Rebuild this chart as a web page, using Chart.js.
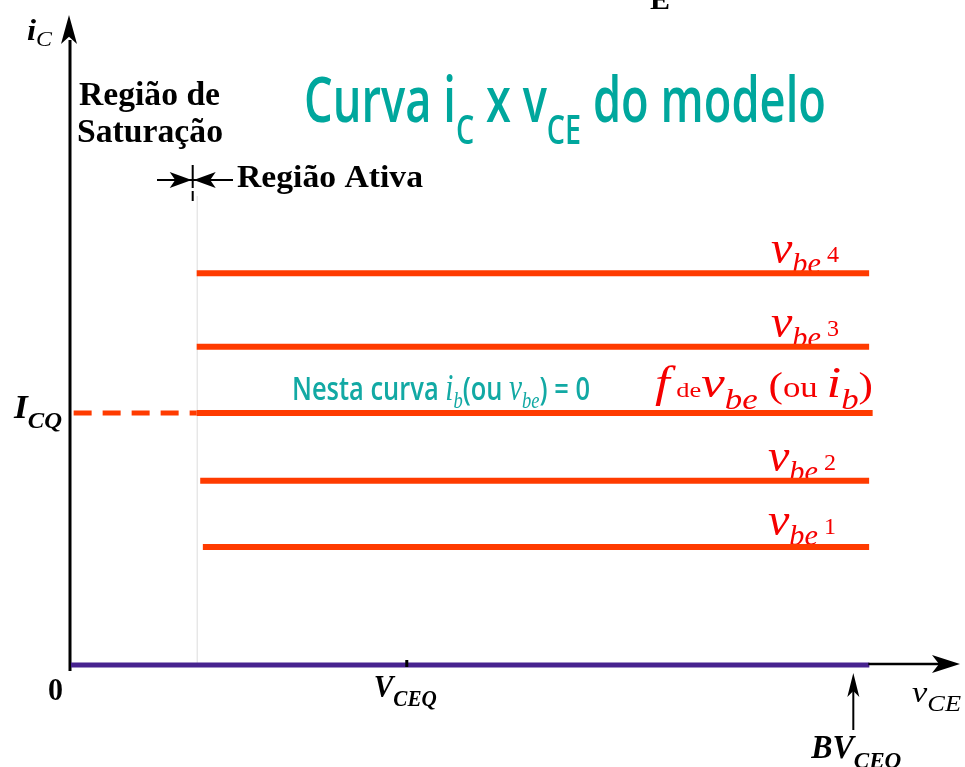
<!DOCTYPE html>
<html>
<head>
<meta charset="utf-8">
<script src="https://cdn.jsdelivr.net/npm/chart.js@4.4.1/dist/chart.umd.min.js"></script>
<style>
  html, body { margin: 0; padding: 0; background: #ffffff; }
  #wrap { width: 965px; height: 767px; }
</style>
</head>
<body>
<div id="wrap"><canvas id="icChart" width="965" height="767"></canvas></div>
<script>
// i_C x v_CE curves of the model (arbitrary units, 0..100 on both axes)
const curveNames = ['vbe4', 'vbe3', 'ICQ', 'vbe2', 'vbe1'];
const curveCurrents = [61.7, 50.1, 39.7, 29.0, 18.6];
const curveStarts = [14.3, 14.3, 14.3, 14.7, 15.0];
const curveEnds = [90.8, 90.8, 91.2, 90.8, 90.8];
const curveSuffix = [' 4', ' 3', '', ' 2', ' 1'];
const vceqValue = 38.2;
const bvceoValue = 89.0;
const icqValue = curveCurrents[2];
const vceMax = 100;
const icMax = 100;

const SERIF = "'Liberation Serif', 'Times New Roman', serif";
const SANS = "'Open Sans', 'Noto Sans', sans-serif";
const RED_LINE = '#ff3b00';
const RED_TEXT = '#f50000';
const TEAL = '#00a79d';

// draws a run of text pieces [text, font, dy], optionally squeezed to a width
function drawRich(ctx, x, y, parts, width, color) {
    ctx.save();
    ctx.fillStyle = color || '#000';
    ctx.textBaseline = 'alphabetic';
    ctx.textAlign = 'left';
    let total = 0;
    parts.forEach(p => { ctx.font = p[1]; total += ctx.measureText(p[0]).width; });
    const sx = width ? width / total : 1;
    ctx.translate(x, y);
    ctx.scale(sx, 1);
    let cx = 0;
    parts.forEach(p => {
        ctx.font = p[1];
        ctx.fillText(p[0], cx, p[2] || 0);
        cx += ctx.measureText(p[0]).width;
    });
    ctx.restore();
}

function arrowHead(ctx, tipX, tipY, dirX, dirY, len, half) {
    const bx = tipX - dirX * len, by = tipY - dirY * len;
    const nx = -dirY, ny = dirX;
    ctx.beginPath();
    ctx.moveTo(tipX, tipY);
    ctx.lineTo(bx + nx * half, by + ny * half);
    ctx.lineTo(tipX - dirX * len * 0.75, tipY - dirY * len * 0.75);
    ctx.lineTo(bx - nx * half, by - ny * half);
    ctx.closePath();
    ctx.fill();
}

const datasets = curveCurrents.map((ic, i) => ({
    label: curveNames[i],
    data: [{ x: curveStarts[i], y: ic }, { x: curveEnds[i], y: ic }],
    borderColor: RED_LINE,
    borderWidth: 6,
    borderCapStyle: 'butt',
    pointRadius: 0,
    tension: 0,
    fill: false,
    clip: false
}));

// dashed projection of I_CQ back to the vertical axis
datasets.push({
    label: 'ICQ dashed',
    data: [{ x: 0.3, y: icqValue }, { x: curveStarts[2], y: icqValue }],
    borderColor: RED_LINE,
    borderWidth: 5,
    borderDash: [18, 11],
    borderCapStyle: 'butt',
    pointRadius: 0,
    fill: false,
    clip: false
});

const underPlugin = {
    id: 'underLayer',
    beforeDatasetsDraw(chart) {
        const ctx = chart.ctx;
        const xs = chart.scales.x, ys = chart.scales.y;
        const x0 = xs.getPixelForValue(curveStarts[0]);

        // boundary between saturation and active regions
        ctx.save();
        ctx.strokeStyle = '#dcdcdc';
        ctx.lineWidth = 1;
        ctx.beginPath();
        ctx.moveTo(x0 + 0.5, 196);
        ctx.lineTo(x0 + 0.5, ys.getPixelForValue(0));
        ctx.stroke();
        ctx.restore();

        // curve labels
        curveCurrents.forEach((ic, i) => {
            const py = ys.getPixelForValue(ic);
            if (i === 2) {
                drawRich(ctx, 655, py - 16, [
                    ['f', 'italic 44px ' + SERIF],
                    [' de', '22px ' + SERIF],
                    ['v', 'italic 44px ' + SERIF],
                    ['be', 'italic 29px ' + SERIF, 12],
                    [' (', '36px ' + SERIF],
                    ['ou ', '29px ' + SERIF],
                    ['i', 'italic 44px ' + SERIF],
                    ['b', 'italic 29px ' + SERIF, 12],
                    [')', '36px ' + SERIF]
                ], 218, RED_TEXT);
            } else {
                const lx = i < 2 ? 771 : 768;
                drawRich(ctx, lx, py - 10 - (i === 4 ? 2 : 0), [
                    ['v', 'italic 46px ' + SERIF],
                    ['be', 'italic 29px ' + SERIF, 10],
                    [curveSuffix[i], '23px ' + SERIF, -1]
                ], 68, RED_TEXT);
            }
        });
    }
};

const overPlugin = {
    id: 'overLayer',
    afterDatasetsDraw(chart) {
        const ctx = chart.ctx;
        const xs = chart.scales.x, ys = chart.scales.y;
        const ox = xs.getPixelForValue(0);
        const oy = ys.getPixelForValue(0);
        const top = ys.getPixelForValue(icMax);
        const right = xs.getPixelForValue(vceMax);
        const bvx = xs.getPixelForValue(bvceoValue);

        ctx.save();
        ctx.fillStyle = '#000';
        ctx.strokeStyle = '#000';

        // vertical axis i_C
        ctx.lineWidth = 3;
        ctx.beginPath();
        ctx.moveTo(ox - 1, oy + 6);
        ctx.lineTo(ox - 1, top + 10);
        ctx.stroke();
        arrowHead(ctx, ox - 2, top - 15, 0, -1, 29, 8);

        // horizontal axis v_CE
        ctx.strokeStyle = '#47238f';
        ctx.lineWidth = 5;
        ctx.beginPath();
        ctx.moveTo(ox, oy);
        ctx.lineTo(bvx + 16, oy);
        ctx.stroke();
        ctx.strokeStyle = '#000';
        ctx.lineWidth = 2.5;
        ctx.beginPath();
        ctx.moveTo(bvx + 15, oy - 1);
        ctx.lineTo(right - 10, oy - 1);
        ctx.stroke();
        arrowHead(ctx, right + 10, oy - 1, 1, 0, 28, 9);

        // V_CEQ tick
        const vq = xs.getPixelForValue(vceqValue);
        ctx.fillRect(vq - 1.5, oy - 5, 3, 7);

        // BV_CEO pointer
        ctx.lineWidth = 2;
        ctx.beginPath();
        ctx.moveTo(bvx, oy + 65);
        ctx.lineTo(bvx, oy + 15);
        ctx.stroke();
        arrowHead(ctx, bvx, oy + 8, 0, -1, 24, 6);

        // region marker
        const mx = xs.getPixelForValue(curveStarts[0]) - 4;
        ctx.lineWidth = 2;
        ctx.beginPath();
        ctx.moveTo(157, 180);
        ctx.lineTo(233, 180);
        ctx.moveTo(mx, 165);
        ctx.lineTo(mx, 188);
        ctx.moveTo(mx, 191);
        ctx.lineTo(mx, 201);
        ctx.stroke();
        arrowHead(ctx, mx - 1, 180, 1, 0, 22, 8);
        arrowHead(ctx, mx + 1, 180, -1, 0, 22, 8);
        ctx.restore();

        // axis and tick labels
        drawRich(ctx, 27, 40, [
            ['i', 'italic bold 30px ' + SERIF],
            ['C', 'italic 22px ' + SERIF, 6]
        ], 25);
        drawRich(ctx, 14, ys.getPixelForValue(icqValue) + 5, [
            ['I', 'italic bold 33px ' + SERIF],
            ['CQ', 'italic bold 23px ' + SERIF, 10]
        ], 48);
        drawRich(ctx, ox - 23, oy + 35, [['0', 'bold 32px ' + SERIF]], 15);
        drawRich(ctx, vq - 33, oy + 32, [
            ['V', 'italic bold 32px ' + SERIF],
            ['CEQ', 'italic bold 23px ' + SERIF, 9]
        ], 63);
        drawRich(ctx, 912, oy + 37, [
            ['v', 'italic 30px ' + SERIF],
            ['CE', 'italic 23px ' + SERIF, 9]
        ], 49);
        drawRich(ctx, bvx - 42, oy + 93, [
            ['BV', 'italic bold 33px ' + SERIF],
            ['CEO', 'italic bold 24px ' + SERIF, 10]
        ], 90);
        drawRich(ctx, 650, 9, [['E', 'bold 28px ' + SERIF]], 20);

        // region captions
        drawRich(ctx, 79, 105, [['Região de', 'bold 33px ' + SERIF]], 141);
        drawRich(ctx, 77, 142, [['Saturação', 'bold 33px ' + SERIF]], 146);
        drawRich(ctx, 237, 187, [['Região Ativa', 'bold 32px ' + SERIF]], 186);

        // title and note
        drawRich(ctx, 304, 122, [
            ['Curva i', '600 63px ' + SANS],
            ['C', '600 40px ' + SANS, 22],
            [' x v', '600 63px ' + SANS],
            ['CE', '600 40px ' + SANS, 22],
            [' do modelo', '600 63px ' + SANS]
        ], 522, TEAL);
        drawRich(ctx, 292, 400, [
            ['Nesta curva ', '600 33px ' + SANS],
            ['i', 'italic 38px ' + SERIF],
            ['b', 'italic 24px ' + SERIF, 8],
            ['(ou ', '600 33px ' + SANS],
            ['v', 'italic 38px ' + SERIF],
            ['be', 'italic 24px ' + SERIF, 8],
            [') = 0', '600 33px ' + SANS]
        ], 298, '#12a9a4');
    }
};

new Chart(document.getElementById('icChart'), {
    type: 'line',
    data: { datasets: datasets },
    options: {
        responsive: false,
        animation: false,
        events: [],
        layout: { padding: { left: 71, right: 15, top: 30, bottom: 102 } },
        scales: {
            x: { type: 'linear', min: 0, max: vceMax, display: false },
            y: { type: 'linear', min: 0, max: icMax, display: false }
        },
        plugins: {
            legend: { display: false },
            tooltip: { enabled: false }
        }
    },
    plugins: [underPlugin, overPlugin]
});
</script>
</body>
</html>
